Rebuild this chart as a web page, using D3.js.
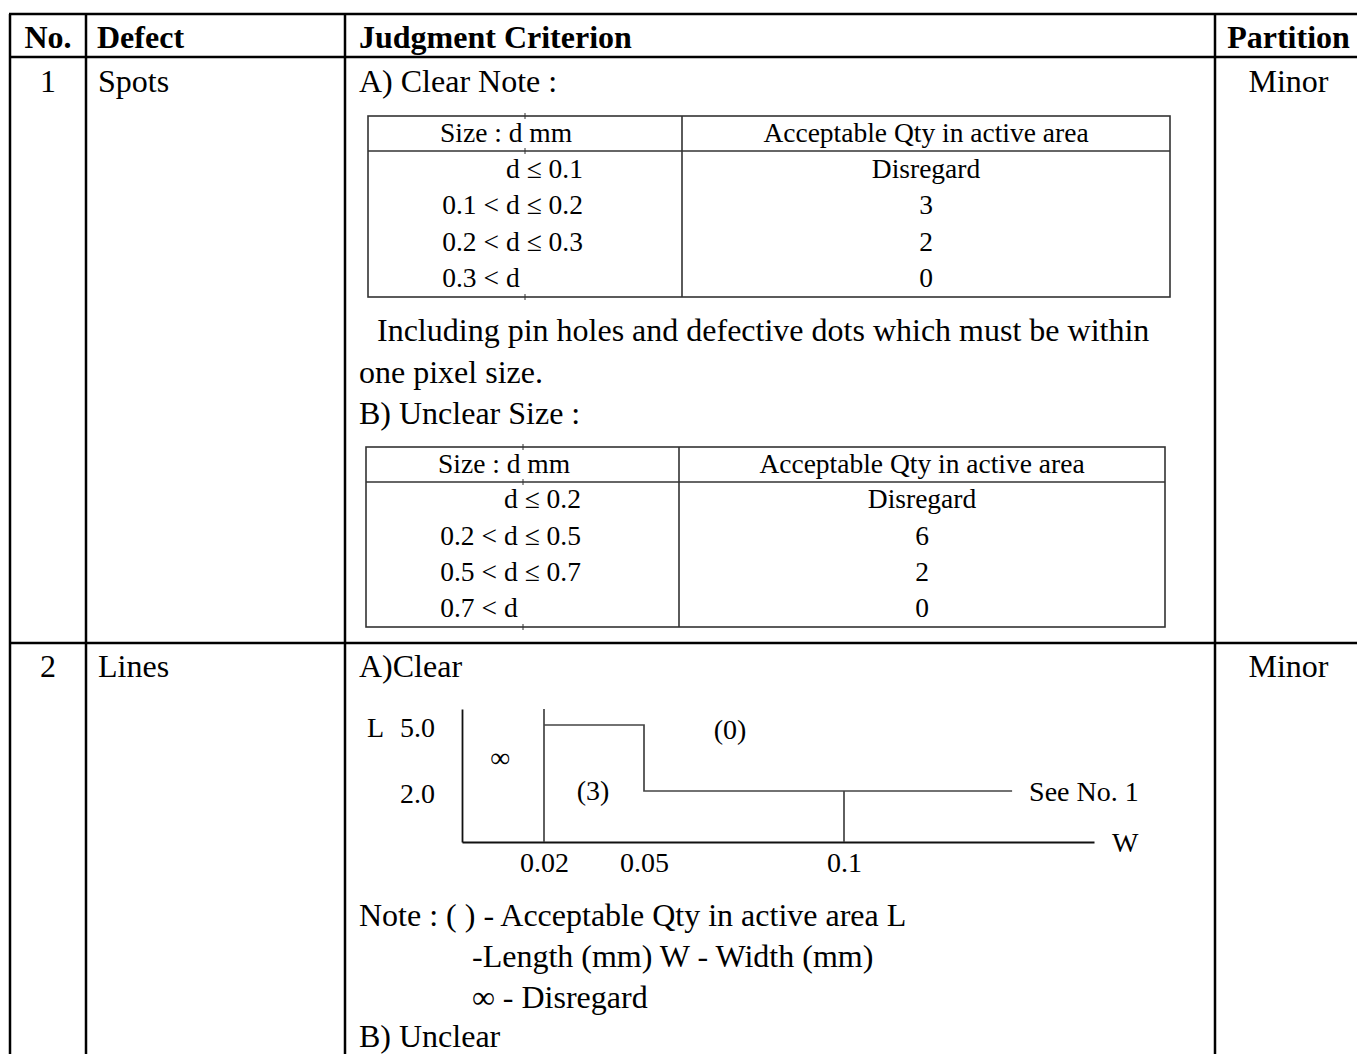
<!DOCTYPE html>
<html>
<head>
<meta charset="utf-8">
<script src="https://cdn.jsdelivr.net/npm/d3@7"></script>
<style>
  body { margin: 0; background: #fff; }
  svg { display: block; }
  text { font-family: "Liberation Serif", "Times New Roman", serif; fill: #000; }
</style>
</head>
<body>
<div id="chart"></div>
<script>
// table content
const headers = ["No.", "Defect", "Judgment Criterion", "Partition"];
const defectNo = ["1", "2"];
const defectName = ["Spots", "Lines"];
const partition = ["Minor", "Minor"];

const sizeHeader = ["Size : d mm", "Acceptable Qty in active area"];
const clearLower = [null, 0.1, 0.2, 0.3];
const clearUpper = [0.1, 0.2, 0.3, null];
const clearQty = ["Disregard", "3", "2", "0"];
const unclearLower = [null, 0.2, 0.5, 0.7];
const unclearUpper = [0.2, 0.5, 0.7, null];
const unclearQty = ["Disregard", "6", "2", "0"];

const spotsText = ["A) Clear Note :", "Including pin holes and defective dots which must be within", "one pixel size.", "B) Unclear Size :"];
const linesText = ["A)Clear", "Note : ( ) - Acceptable Qty in active area L", "-Length (mm) W - Width (mm)", "\u221e - Disregard", "B) Unclear"];

// W / L diagram
const widthTicks = [0.02, 0.05, 0.1];
const lengthTicks = [5.0, 2.0];
const stepW = [0.02, 0.05, 0.05, 0.139];
const stepL = [5.0, 5.0, 2.0, 2.0];
const regionText = ["\u221e", "(3)", "(0)"];
const regionW = [0.0093, 0.0347, 0.0715];
const regionL = [3.55, 2.05, 4.8];

const W = 1357, H = 1054;
const svg = d3.select("#chart").append("svg").attr("width", W).attr("height", H);
svg.append("rect").attr("width", W).attr("height", H).attr("fill", "#fff");

// outer grid
const colX = [10, 86, 345, 1215, 1362];
const rowY = [14, 57, 643];
const grid = svg.append("g").attr("stroke", "#000").attr("stroke-width", 2.5);
rowY.forEach(y => grid.append("line").attr("x1", colX[0] - 1).attr("x2", W).attr("y1", y).attr("y2", y));
colX.slice(0, 4).forEach(x => grid.append("line").attr("x1", x).attr("x2", x).attr("y1", rowY[0]).attr("y2", H));

// header
const headX = [(colX[0] + colX[1]) / 2, 97, 359, (colX[3] + colX[4]) / 2];
svg.append("g").selectAll("text").data(headers).join("text")
  .attr("x", (d, i) => headX[i]).attr("y", 48)
  .attr("text-anchor", (d, i) => (i === 0 || i === 3) ? "middle" : "start")
  .attr("font-size", 32).attr("font-weight", "bold").text(d => d);

// row labels
const rowBase = [92, 677];
const rows = svg.append("g").attr("font-size", 32);
defectNo.forEach((d, i) => {
  rows.append("text").attr("x", headX[0]).attr("y", rowBase[i]).attr("text-anchor", "middle").text(d);
  rows.append("text").attr("x", 98).attr("y", rowBase[i]).text(defectName[i]);
  rows.append("text").attr("x", headX[3]).attr("y", rowBase[i]).attr("text-anchor", "middle").text(partition[i]);
});

// criterion text
const spotsPos = [[359, 92], [377, 341], [359, 383], [359, 424]];
const linesPos = [[359, 677], [359, 926], [472, 967], [472, 1008], [359, 1047]];
spotsText.forEach((t, i) => rows.append("text").attr("x", spotsPos[i][0]).attr("y", spotsPos[i][1]).text(t));
linesText.forEach((t, i) => rows.append("text").attr("x", linesPos[i][0]).attr("y", linesPos[i][1]).text(t));

// small size tables
function sizeTable(box, lower, upper, qty) {
  const g = svg.append("g").attr("font-size", 27.5).attr("fill", "#111");
  const ln = g.append("g").attr("stroke", "#333").attr("stroke-width", 1.6);
  ln.append("rect").attr("x", box.x0).attr("y", box.top).attr("width", box.x1 - box.x0).attr("height", box.bottom - box.top).attr("fill", "none");
  ln.append("line").attr("x1", box.x0).attr("x2", box.x1).attr("y1", box.head).attr("y2", box.head);
  ln.append("line").attr("x1", box.mid).attr("x2", box.mid).attr("y1", box.top).attr("y2", box.bottom);
  [box.top, box.head, box.bottom].forEach(y =>
    ln.append("line").attr("x1", box.tick).attr("x2", box.tick).attr("y1", y - 3).attr("y2", y + 3).attr("stroke-width", 1));

  g.append("text").attr("x", box.x0 + 72).attr("y", (box.top + box.head) / 2).attr("dy", "0.3em").text(sizeHeader[0]);
  g.append("text").attr("x", (box.mid + box.x1) / 2).attr("y", (box.top + box.head) / 2).attr("dy", "0.3em")
    .attr("text-anchor", "middle").text(sizeHeader[1]);

  const y = d3.scaleBand().domain(d3.range(qty.length)).range([box.head, box.bottom]);
  const fmt = d3.format(".1f");
  const dX = box.x0 + 138;
  qty.forEach((q, i) => {
    const cy = y(i) + y.bandwidth() / 2;
    if (lower[i] !== null) {
      g.append("text").attr("x", dX - 7).attr("y", cy).attr("dy", "0.3em").attr("text-anchor", "end").text(fmt(lower[i]) + " <");
    }
    g.append("text").attr("x", dX).attr("y", cy).attr("dy", "0.3em")
      .text(upper[i] !== null ? "d \u2264 " + fmt(upper[i]) : "d");
    g.append("text").attr("x", (box.mid + box.x1) / 2).attr("y", cy).attr("dy", "0.3em")
      .attr("text-anchor", "middle").text(q);
  });
}
sizeTable({ x0: 368, mid: 682, x1: 1170, top: 116, head: 151, bottom: 297, tick: 525 }, clearLower, clearUpper, clearQty);
sizeTable({ x0: 366, mid: 679, x1: 1165, top: 447, head: 482, bottom: 627, tick: 523 }, unclearLower, unclearUpper, unclearQty);

// W-L diagram (schematic, not to scale)
const plot = svg.append("g").attr("transform", "translate(462,709)");
const x = d3.scaleLinear().domain([0, 0.02, 0.05, 0.1, 0.158]).range([0, 82, 182, 382, 632]);
const yL = d3.scaleLinear().domain([0, 2, 5, 5.6]).range([133, 82, 16, 0]);

const xAxis = plot.append("g").attr("transform", "translate(0,133)")
  .call(d3.axisBottom(x).tickValues(widthTicks).tickSize(0).tickPadding(10).tickFormat(d3.format("~g")));
const yAxis = plot.append("g")
  .call(d3.axisLeft(yL).tickValues(lengthTicks).tickSize(0).tickPadding(27).tickFormat(d3.format(".1f")));
[xAxis, yAxis].forEach(a => {
  a.attr("font-family", null).attr("font-size", 28);
  a.select(".domain").attr("stroke", "#111").attr("stroke-width", 1.8);
  a.selectAll("text").attr("fill", "#111");
});
yAxis.selectAll(".tick text").attr("dy", "0.42em");

const line = d3.line().x(d => x(d[0])).y(d => yL(d[1]));
const edge = plot.append("g").attr("fill", "none").attr("stroke", "#444").attr("stroke-width", 1.7);
edge.append("path").attr("d", line([[0.02, 0], [0.02, 5.6]]));
edge.append("path").attr("d", line(stepW.map((w, i) => [w, stepL[i]])));
edge.append("path").attr("d", line([[0.1, 0], [0.1, 2]]));

const lab = plot.append("g").attr("font-size", 28).attr("fill", "#111");
regionText.forEach((t, i) => lab.append("text").attr("x", x(regionW[i])).attr("y", yL(regionL[i]))
  .attr("dy", "0.35em").attr("text-anchor", "middle").text(t));
lab.append("text").attr("x", x(stepW[3]) + 17).attr("y", yL(2)).attr("dy", "0.35em").text("See No. 1");
lab.append("text").attr("x", x(0.158) + 18).attr("y", yL(0)).attr("dy", "0.35em").text("W");
lab.append("text").attr("x", -95).attr("y", yL(5)).attr("dy", "0.42em").text("L");
</script>
</body>
</html>
